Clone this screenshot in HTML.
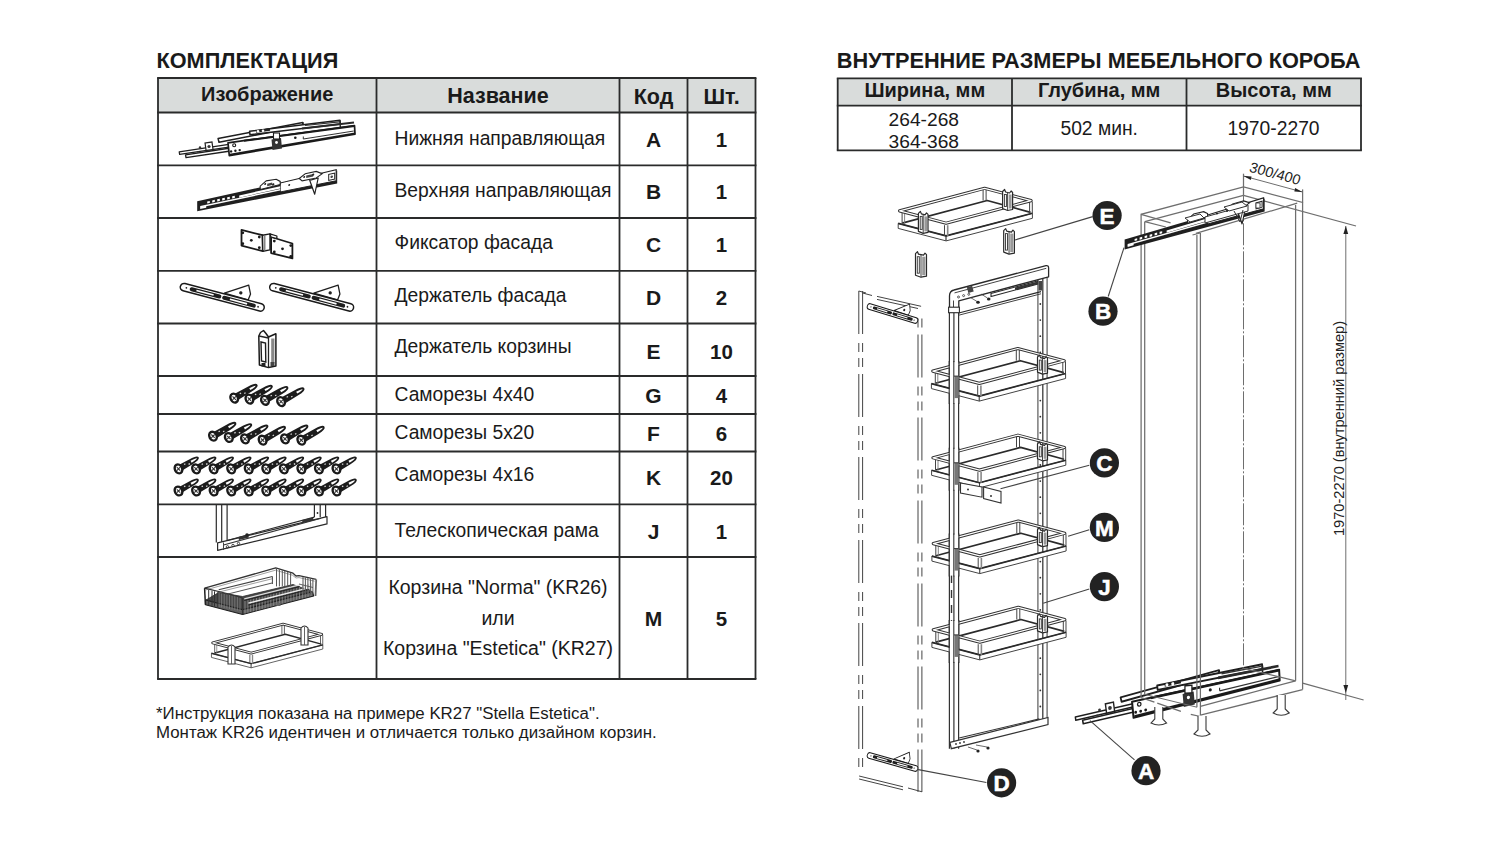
<!DOCTYPE html>
<html><head><meta charset="utf-8"><style>
html,body{margin:0;padding:0;background:#fff;width:1500px;height:844px;overflow:hidden}
svg{display:block}
text{font-family:"Liberation Sans",sans-serif}
</style></head><body>
<svg width="1500" height="844" viewBox="0 0 1500 844">
<rect width="1500" height="844" fill="#fff"/>
<rect x="158" y="78" width="597.5" height="34.5" fill="#d9dcdb"/>
<line x1="157.1" y1="78" x2="756.4" y2="78" stroke="#2a2b2b" stroke-width="1.8"/>
<line x1="157.1" y1="112.5" x2="756.4" y2="112.5" stroke="#2a2b2b" stroke-width="1.8"/>
<line x1="157.1" y1="165.3" x2="756.4" y2="165.3" stroke="#2a2b2b" stroke-width="1.8"/>
<line x1="157.1" y1="218" x2="756.4" y2="218" stroke="#2a2b2b" stroke-width="1.8"/>
<line x1="157.1" y1="270.8" x2="756.4" y2="270.8" stroke="#2a2b2b" stroke-width="1.8"/>
<line x1="157.1" y1="323.5" x2="756.4" y2="323.5" stroke="#2a2b2b" stroke-width="1.8"/>
<line x1="157.1" y1="376" x2="756.4" y2="376" stroke="#2a2b2b" stroke-width="1.8"/>
<line x1="157.1" y1="414" x2="756.4" y2="414" stroke="#2a2b2b" stroke-width="1.8"/>
<line x1="157.1" y1="451.5" x2="756.4" y2="451.5" stroke="#2a2b2b" stroke-width="1.8"/>
<line x1="157.1" y1="504.3" x2="756.4" y2="504.3" stroke="#2a2b2b" stroke-width="1.8"/>
<line x1="157.1" y1="557" x2="756.4" y2="557" stroke="#2a2b2b" stroke-width="1.8"/>
<line x1="157.1" y1="679" x2="756.4" y2="679" stroke="#2a2b2b" stroke-width="1.8"/>
<line x1="158" y1="78" x2="158" y2="679" stroke="#2a2b2b" stroke-width="1.8"/>
<line x1="376.5" y1="78" x2="376.5" y2="679" stroke="#2a2b2b" stroke-width="1.8"/>
<line x1="619.5" y1="78" x2="619.5" y2="679" stroke="#2a2b2b" stroke-width="1.8"/>
<line x1="687.5" y1="78" x2="687.5" y2="679" stroke="#2a2b2b" stroke-width="1.8"/>
<line x1="755.5" y1="78" x2="755.5" y2="679" stroke="#2a2b2b" stroke-width="1.8"/>
<rect x="837.7" y="78.3" width="523.3" height="27.400000000000006" fill="#d9dcdb"/>
<line x1="836.8000000000001" y1="78.3" x2="1361.9" y2="78.3" stroke="#2a2b2b" stroke-width="1.8"/>
<line x1="836.8000000000001" y1="105.7" x2="1361.9" y2="105.7" stroke="#2a2b2b" stroke-width="1.8"/>
<line x1="836.8000000000001" y1="150.3" x2="1361.9" y2="150.3" stroke="#2a2b2b" stroke-width="1.8"/>
<line x1="837.7" y1="78.3" x2="837.7" y2="150.3" stroke="#2a2b2b" stroke-width="1.8"/>
<line x1="1012" y1="78.3" x2="1012" y2="150.3" stroke="#2a2b2b" stroke-width="1.8"/>
<line x1="1186.5" y1="78.3" x2="1186.5" y2="150.3" stroke="#2a2b2b" stroke-width="1.8"/>
<line x1="1361" y1="78.3" x2="1361" y2="150.3" stroke="#2a2b2b" stroke-width="1.8"/>
<g><text x="156.5" y="67.5" font-size="21.7" font-weight="bold" text-anchor="start" fill="#1a1a1a">КОМПЛЕКТАЦИЯ</text>
<text x="836.8" y="67.5" font-size="21.72" font-weight="bold" text-anchor="start" fill="#1a1a1a">ВНУТРЕННИЕ РАЗМЕРЫ МЕБЕЛЬНОГО КОРОБА</text>
<text x="267.2" y="100.6" font-size="20" font-weight="bold" text-anchor="middle" fill="#1a1a1a">Изображение</text>
<text x="498" y="102.8" font-size="21.5" font-weight="bold" text-anchor="middle" fill="#1a1a1a">Название</text>
<text x="653.5" y="103.9" font-size="21.5" font-weight="bold" text-anchor="middle" fill="#1a1a1a">Код</text>
<text x="721.5" y="103.9" font-size="21.5" font-weight="bold" text-anchor="middle" fill="#1a1a1a">Шт.</text>
<text x="394.5" y="144.8" font-size="19.3"  text-anchor="start" fill="#1a1a1a">Нижняя направляющая</text>
<text x="394.5" y="196.8" font-size="19.3"  text-anchor="start" fill="#1a1a1a">Верхняя направляющая</text>
<text x="394.5" y="248.8" font-size="19.3"  text-anchor="start" fill="#1a1a1a">Фиксатор фасада</text>
<text x="394.5" y="302" font-size="19.3"  text-anchor="start" fill="#1a1a1a">Держатель фасада</text>
<text x="394.5" y="353.0" font-size="19.3"  text-anchor="start" fill="#1a1a1a">Держатель корзины</text>
<text x="394.5" y="400.8" font-size="19.3"  text-anchor="start" fill="#1a1a1a">Саморезы 4x40</text>
<text x="394.5" y="438.5" font-size="19.3"  text-anchor="start" fill="#1a1a1a">Саморезы 5x20</text>
<text x="394.5" y="481.3" font-size="19.3"  text-anchor="start" fill="#1a1a1a">Саморезы 4x16</text>
<text x="394.5" y="536.8" font-size="19.3"  text-anchor="start" fill="#1a1a1a">Телескопическая рама</text>
<text x="498" y="594" font-size="19.5"  text-anchor="middle" fill="#1a1a1a">Корзина "Norma" (KR26)</text>
<text x="498" y="625" font-size="19.5"  text-anchor="middle" fill="#1a1a1a">или</text>
<text x="498" y="655" font-size="19.5"  text-anchor="middle" fill="#1a1a1a">Корзина "Estetica" (KR27)</text>
<text x="653.5" y="146.7" font-size="21" font-weight="bold" text-anchor="middle" fill="#1a1a1a">A</text>
<text x="721.5" y="146.7" font-size="20.5" font-weight="bold" text-anchor="middle" fill="#1a1a1a">1</text>
<text x="653.5" y="199.3" font-size="21" font-weight="bold" text-anchor="middle" fill="#1a1a1a">B</text>
<text x="721.5" y="199.3" font-size="20.5" font-weight="bold" text-anchor="middle" fill="#1a1a1a">1</text>
<text x="653.5" y="251.5" font-size="21" font-weight="bold" text-anchor="middle" fill="#1a1a1a">C</text>
<text x="721.5" y="251.5" font-size="20.5" font-weight="bold" text-anchor="middle" fill="#1a1a1a">1</text>
<text x="653.5" y="305.2" font-size="21" font-weight="bold" text-anchor="middle" fill="#1a1a1a">D</text>
<text x="721.5" y="305.2" font-size="20.5" font-weight="bold" text-anchor="middle" fill="#1a1a1a">2</text>
<text x="653.5" y="359" font-size="21" font-weight="bold" text-anchor="middle" fill="#1a1a1a">E</text>
<text x="721.5" y="359" font-size="20.5" font-weight="bold" text-anchor="middle" fill="#1a1a1a">10</text>
<text x="653.5" y="402.8" font-size="21" font-weight="bold" text-anchor="middle" fill="#1a1a1a">G</text>
<text x="721.5" y="402.8" font-size="20.5" font-weight="bold" text-anchor="middle" fill="#1a1a1a">4</text>
<text x="653.5" y="440.7" font-size="21" font-weight="bold" text-anchor="middle" fill="#1a1a1a">F</text>
<text x="721.5" y="440.7" font-size="20.5" font-weight="bold" text-anchor="middle" fill="#1a1a1a">6</text>
<text x="653.5" y="485" font-size="21" font-weight="bold" text-anchor="middle" fill="#1a1a1a">K</text>
<text x="721.5" y="485" font-size="20.5" font-weight="bold" text-anchor="middle" fill="#1a1a1a">20</text>
<text x="653.5" y="538.6" font-size="21" font-weight="bold" text-anchor="middle" fill="#1a1a1a">J</text>
<text x="721.5" y="538.6" font-size="20.5" font-weight="bold" text-anchor="middle" fill="#1a1a1a">1</text>
<text x="653.5" y="625.5" font-size="21" font-weight="bold" text-anchor="middle" fill="#1a1a1a">M</text>
<text x="721.5" y="625.5" font-size="20.5" font-weight="bold" text-anchor="middle" fill="#1a1a1a">5</text>
<text x="924.8" y="96.7" font-size="20" font-weight="bold" text-anchor="middle" fill="#1a1a1a">Ширина, мм</text>
<text x="1099.2" y="96.7" font-size="20" font-weight="bold" text-anchor="middle" fill="#1a1a1a">Глубина, мм</text>
<text x="1273.8" y="96.7" font-size="20" font-weight="bold" text-anchor="middle" fill="#1a1a1a">Высота, мм</text>
<text x="923.8" y="126.0" font-size="19.2"  text-anchor="middle" fill="#1a1a1a">264-268</text>
<text x="923.8" y="148.0" font-size="19.2"  text-anchor="middle" fill="#1a1a1a">364-368</text>
<text x="1099.2" y="135.3" font-size="19.3"  text-anchor="middle" fill="#1a1a1a">502 мин.</text>
<text x="1273.5" y="135.3" font-size="19.3"  text-anchor="middle" fill="#1a1a1a">1970-2270</text>
<text x="156" y="719" font-size="16.85"  text-anchor="start" fill="#1a1a1a">*Инструкция показана на примере KR27 "Stella Estetica".</text>
<text x="156" y="737.5" font-size="16.85"  text-anchor="start" fill="#1a1a1a">Монтаж KR26 идентичен и отличается только дизайном корзин.</text></g>
<use href="#railAsym" transform="matrix(1.1625,-0.0824,0,1.25,867.0,542.05)"/>
<g id="cabinet" fill="none" stroke="#6e6e6e" stroke-width="1.25">
  <polyline points="1141.1,697.6 1141.1,214.3 1243.5,187 1302.6,202.4 1302.6,689.6"/>
  <line x1="1144.8" y1="221.7" x2="1243.5" y2="195.3"/>
  <line x1="1243.5" y1="195.3" x2="1356" y2="226"/>
  <line x1="1297.2" y1="203.2" x2="1195.9" y2="233.3"/>
  <line x1="1141.1" y1="214.3" x2="1170.6" y2="222.9"/>
  <line x1="1144.8" y1="221.7" x2="1165.8" y2="227"/>
  <line x1="1192.5" y1="235" x2="1200.2" y2="233"/>
  <line x1="1144.7" y1="221.7" x2="1144.7" y2="694.4"/>
  <line x1="1196.9" y1="235" x2="1196.9" y2="707.2"/>
  <line x1="1200.4" y1="233" x2="1200.4" y2="715.2"/>
  <line x1="1295.6" y1="205" x2="1295.6" y2="680.8"/>
  <line x1="1243.5" y1="173.7" x2="1243.5" y2="195.3"/>
  <line x1="1243.5" y1="195.3" x2="1243.5" y2="668" stroke-dasharray="22 2 2 2" stroke-width="1"/>
  <line x1="1302.6" y1="189.4" x2="1302.6" y2="202.4"/>
  <line x1="1243.5" y1="176" x2="1302.4" y2="192" stroke-width="1"/>
  <line x1="1345.8" y1="226" x2="1345.8" y2="700" stroke-width="1"/>
  <!-- bottom -->
  <line x1="1200.4" y1="715.2" x2="1302.6" y2="689.6"/>
  <line x1="1200.4" y1="706.4" x2="1295.6" y2="680.8"/>
  <line x1="1242" y1="668" x2="1295.6" y2="680.8"/>
  <line x1="1302.6" y1="683.2" x2="1363.6" y2="700"/>
  <line x1="1141.2" y1="697.6" x2="1182.8" y2="712" stroke-dasharray="14 3 25 3"/>
  <line x1="1190.8" y1="714.4" x2="1200.4" y2="716.5"/>
  <line x1="1144.7" y1="694.4" x2="1196.9" y2="707.2" stroke-width="1"/>
</g>
<g id="feet" fill="#fff" stroke="#3a3a3a" stroke-width="1.1">
  <path d="M1154.8,707 L1154.8,719 L1151,723 Q1158.8,727 1166.6,723 L1162.8,719 L1162.8,707"/>
  <path d="M1198,716 L1198,730 L1194,734 Q1202,738.5 1210,734 L1206,730 L1206,716"/>
  <path d="M1277.2,695 L1277.2,709 L1273.2,713 Q1281.2,717.5 1289.2,713 L1285.2,709 L1285.2,695"/>
</g>

<use href="#railBsym" transform="matrix(1,-0.281,0,1,1124.6,239.4)"/>
  <polygon points="1205,223 1248,211 1248,205 1205,217" fill="#fff" stroke="#333" stroke-width="1"/>
  <polygon points="1185,218 1200,214 1204,218 1190,222" fill="#fff" stroke="#333" stroke-width="1"/>
  <polygon points="1224,207 1242,202 1247,206 1229,211" fill="#fff" stroke="#333" stroke-width="1"/>
  <polyline points="1234,211 1240,222 1243,210" fill="none" stroke="#333" stroke-width="1"/>
  <rect x="1256" y="203" width="4" height="5" fill="#fff" stroke="#333" stroke-width="0.8"/>
  <circle cx="1217" cy="213.5" r="1" fill="#222"/><circle cx="1227" cy="211" r="1" fill="#222"/>
</g>
<g fill="#222">
  <polygon points="1243.5,176 1251.5,176.4 1250.8,180"/>
  <polygon points="1302.4,192 1294.4,191.6 1295.1,188"/>
  <polygon points="1345.8,226 1343.4,234 1348.2,234"/>
  <polygon points="1345.8,693 1343.4,685 1348.2,685"/>
</g>
<text transform="translate(1248.5,171.5) rotate(15) skewX(-3)" font-size="14.4" fill="#222">300/400</text>
<text transform="translate(1343.5,536) rotate(-90)" font-size="14.6" fill="#222">1970-2270 (внутренний размер)</text>
<defs><g id="bask"><polyline points="2.6,12.2 87.6,-10.4 131.0,1.5" fill="none" stroke="#2a2a2a" stroke-width="1.7" stroke-linejoin="round"/>
<line x1="83.5" y1="-21.6" x2="83.5" y2="-10.4" stroke="#444" stroke-width="1.0"/>
<line x1="86.5" y1="-21.6" x2="86.5" y2="-10.4" stroke="#444" stroke-width="1.0"/>
<line x1="130.0" y1="-9.3" x2="130.0" y2="2.4" stroke="#444" stroke-width="1.0"/>
<line x1="132.7" y1="-9.3" x2="132.7" y2="2.4" stroke="#444" stroke-width="1.0"/>
<polygon points="-1.4,12.5 46.5,25.0 46.5,30.0 -1.4,17.5" fill="#fff" stroke="#444" stroke-width="1.0" stroke-linejoin="round"/>
<polygon points="46.5,25.0 132.8,2.4 132.8,7.4 46.5,30.0" fill="#fff" stroke="#444" stroke-width="1.0" stroke-linejoin="round"/>
<polyline points="-1.4,12.5 46.5,25.0 132.8,2.4" fill="none" stroke="#2a2a2a" stroke-width="1.7" stroke-linejoin="round"/>
<line x1="2.5" y1="2.0" x2="2.5" y2="12.5" stroke="#444" stroke-width="1.0"/>
<line x1="5.0" y1="2.5" x2="5.0" y2="13.0" stroke="#777" stroke-width="0.9"/>
<line x1="44.9" y1="14.3" x2="44.9" y2="25.0" stroke="#444" stroke-width="1.0"/>
<line x1="48.1" y1="14.3" x2="48.1" y2="25.0" stroke="#888" stroke-width="1.6"/>
<polygon points="0.0,0.0 46.5,12.3 131.5,-10.3 85.0,-22.6" fill="none" stroke="#333" stroke-width="3.2" stroke-linejoin="round"/>
<polygon points="0.0,0.0 46.5,12.3 131.5,-10.3 85.0,-22.6" fill="none" stroke="#fff" stroke-width="1.2" stroke-linejoin="round"/></g></defs>
<line x1="858.8" y1="291.0" x2="858.8" y2="770.0" stroke="#444" stroke-width="1.0" stroke-dasharray="43 9 9 6 9 7"/>
<line x1="862.6" y1="291.0" x2="862.6" y2="770.0" stroke="#444" stroke-width="1.0" stroke-dasharray="43 9 9 6 9 7"/>
<line x1="918.0" y1="313.0" x2="918.0" y2="792.0" stroke="#444" stroke-width="1.0" stroke-dasharray="43 9 9 6 9 7" stroke-dashoffset="61.5"/>
<line x1="921.9" y1="313.0" x2="921.9" y2="792.0" stroke="#444" stroke-width="1.0" stroke-dasharray="43 9 9 6 9 7" stroke-dashoffset="61.5"/>
<line x1="858.8" y1="291.0" x2="866.0" y2="293.0" stroke="#444" stroke-width="1" />
<line x1="862.6" y1="293.0" x2="872.0" y2="295.5" stroke="#444" stroke-width="1" />
<line x1="877.0" y1="296.4" x2="921.1" y2="306.3" stroke="#444" stroke-width="1" />
<line x1="877.0" y1="299.4" x2="918.0" y2="308.5" stroke="#444" stroke-width="1" />
<line x1="859.1" y1="776.0" x2="903.0" y2="786.8" stroke="#444" stroke-width="1" />
<line x1="859.1" y1="779.0" x2="903.0" y2="789.8" stroke="#444" stroke-width="1" />
<line x1="908.0" y1="788.0" x2="922.0" y2="791.8" stroke="#444" stroke-width="1" />
<use href="#holdD" transform="translate(869.5,306.5) rotate(16.93) scale(0.601,0.75)"/>
<use href="#holdD" transform="translate(869.5,755.5) rotate(15.78) scale(0.598,0.75)"/>
<line x1="949.4" y1="312.7" x2="949.4" y2="748.7" stroke="#333" stroke-width="1.2" />
<line x1="953.9" y1="312.7" x2="953.9" y2="748.7" stroke="#333" stroke-width="1.2" />
<line x1="958.6" y1="312.7" x2="958.6" y2="748.7" stroke="#333" stroke-width="1.2" />
<line x1="1037.9" y1="272.0" x2="1037.9" y2="724.6" stroke="#666" stroke-width="1.3" />
<line x1="1042.8" y1="272.0" x2="1042.8" y2="724.6" stroke="#3a3a3a" stroke-width="1.3" />
<line x1="1047.1" y1="272.0" x2="1047.1" y2="724.6" stroke="#666" stroke-width="1.3" />
<circle cx="1040.3" cy="304.0" r="0.9" fill="#333"/>
<circle cx="1040.3" cy="320.1" r="0.9" fill="#333"/>
<circle cx="1040.3" cy="336.2" r="0.9" fill="#333"/>
<circle cx="1040.3" cy="352.3" r="0.9" fill="#333"/>
<circle cx="1040.3" cy="368.4" r="0.9" fill="#333"/>
<circle cx="1040.3" cy="384.5" r="0.9" fill="#333"/>
<circle cx="1040.3" cy="400.6" r="0.9" fill="#333"/>
<circle cx="1040.3" cy="416.7" r="0.9" fill="#333"/>
<circle cx="1040.3" cy="432.8" r="0.9" fill="#333"/>
<circle cx="1040.3" cy="448.9" r="0.9" fill="#333"/>
<circle cx="1040.3" cy="465.0" r="0.9" fill="#333"/>
<circle cx="1040.3" cy="481.1" r="0.9" fill="#333"/>
<circle cx="1040.3" cy="497.2" r="0.9" fill="#333"/>
<circle cx="1040.3" cy="513.3" r="0.9" fill="#333"/>
<circle cx="1040.3" cy="529.4" r="0.9" fill="#333"/>
<circle cx="1040.3" cy="545.5" r="0.9" fill="#333"/>
<circle cx="1040.3" cy="561.6" r="0.9" fill="#333"/>
<circle cx="1040.3" cy="577.7" r="0.9" fill="#333"/>
<circle cx="1040.3" cy="593.8" r="0.9" fill="#333"/>
<circle cx="1040.3" cy="609.9" r="0.9" fill="#333"/>
<circle cx="1040.3" cy="626.0" r="0.9" fill="#333"/>
<circle cx="1040.3" cy="642.1" r="0.9" fill="#333"/>
<circle cx="1040.3" cy="658.2" r="0.9" fill="#333"/>
<circle cx="1040.3" cy="674.3" r="0.9" fill="#333"/>
<circle cx="1040.3" cy="690.4" r="0.9" fill="#333"/>
<circle cx="1040.3" cy="706.5" r="0.9" fill="#333"/>
<path d="M949.5,307 L949.5,296 Q949.5,291 954,290 L1046,265.6 Q1048.6,265.2 1048.6,268 L1048.6,276.8 L958.8,300.8 L958.8,307" fill="#fff" stroke="#2a2a2a" stroke-width="1.3" stroke-linejoin="round"/>
<line x1="954.5" y1="292.9" x2="1046.3" y2="268.3" stroke="#444" stroke-width="1.0" />
<line x1="953.5" y1="300.5" x2="953.5" y2="307.0" stroke="#444" stroke-width="1.0" />
<polyline points="958.8,313.0 1041.0,291.6" fill="none" stroke="#2a2a2a" stroke-width="1.2" />
<polyline points="958.8,315.2 1041.0,293.8" fill="none" stroke="#444" stroke-width="1.0" />
<path d="M991,293.5 L1037.7,281 L1037.7,284 L991,296.5 Z" fill="#fff" stroke="#2a2a2a" stroke-width="1.1"/>
<path d="M1015,287.6 L1037.7,281.5 L1037.7,284 L1015,290 Z" fill="#333"/>
<rect x="1038.5" y="281" width="3.5" height="9.5" fill="#444"/>
<circle cx="958.5" cy="297" r="1.0" fill="none" stroke="#333" stroke-width="0.8"/>
<circle cx="963.6" cy="295.6" r="1.0" fill="none" stroke="#333" stroke-width="0.8"/>
<circle cx="968.8" cy="294.3" r="1.0" fill="none" stroke="#333" stroke-width="0.8"/>
<rect x="967.5" y="286.5" width="5.5" height="6" fill="#444" transform="rotate(-15 970 289.5)"/>
<ellipse cx="978" cy="302.3" rx="1.8" ry="1.5" fill="#222"/>
<ellipse cx="988.7" cy="299" rx="1.8" ry="1.5" fill="#222"/>
<line x1="970.5" y1="297.5" x2="977.0" y2="301.5" stroke="#444" stroke-width="0.8" />
<line x1="981.0" y1="294.0" x2="987.5" y2="298.0" stroke="#444" stroke-width="0.8" />
<rect x="948.6" y="307.2" width="10.8" height="5.5" fill="#fff" stroke="#2a2a2a" stroke-width="1.1"/>
<polygon points="949.9,742.3 1048.0,717.5 1048.0,724.6 951.3,748.7" fill="#fff" stroke="#333" stroke-width="1.2" />
<line x1="959.1" y1="738.0" x2="1039.4" y2="718.9" stroke="#333" stroke-width="1.1" />
<circle cx="956" cy="744" r="0.9" fill="#333"/>
<circle cx="960" cy="743" r="0.9" fill="#333"/>
<circle cx="964" cy="742" r="0.9" fill="#333"/>
<circle cx="978" cy="751" r="1.6" fill="#222"/><circle cx="988" cy="748" r="1.6" fill="#222"/>
<line x1="968.0" y1="747.0" x2="977.0" y2="750.0" stroke="#444" stroke-width="0.8" />
<line x1="976.0" y1="745.0" x2="987.0" y2="747.0" stroke="#444" stroke-width="0.8" />
<line x1="951.5" y1="575.0" x2="951.5" y2="583.0" stroke="#333" stroke-width="1.4" />
<line x1="951.5" y1="590.0" x2="951.5" y2="598.0" stroke="#333" stroke-width="1.4" />
<line x1="951.5" y1="605.0" x2="951.5" y2="613.0" stroke="#333" stroke-width="1.4" />
<line x1="951.5" y1="620.0" x2="951.5" y2="628.0" stroke="#333" stroke-width="1.4" />
<use href="#bask" x="899.6" y="210.9"/>
<use href="#bask" x="932.8" y="371.1"/>
<use href="#bask" x="933" y="457.8"/>
<use href="#bask" x="933.3" y="543.6"/>
<use href="#bask" x="933.3" y="629.9"/>
<rect x="949.8" y="362.1" width="8.6" height="41.0" fill="#fff"/>
<line x1="949.2" y1="361.1" x2="949.2" y2="404.1" stroke="#333" stroke-width="1.1" />
<line x1="953.8" y1="361.1" x2="953.8" y2="404.1" stroke="#333" stroke-width="1.1" />
<line x1="958.9" y1="361.1" x2="958.9" y2="404.1" stroke="#333" stroke-width="1.1" />
<rect x="954.5" y="376.1" width="4" height="22" fill="#777"/>
<line x1="954.0" y1="376.1" x2="958.5" y2="376.1" stroke="#333" stroke-width="1.0" />
<rect x="949.8" y="448.8" width="8.6" height="41.0" fill="#fff"/>
<line x1="949.2" y1="447.8" x2="949.2" y2="490.8" stroke="#333" stroke-width="1.1" />
<line x1="953.8" y1="447.8" x2="953.8" y2="490.8" stroke="#333" stroke-width="1.1" />
<line x1="958.9" y1="447.8" x2="958.9" y2="490.8" stroke="#333" stroke-width="1.1" />
<rect x="954.5" y="462.8" width="4" height="22" fill="#777"/>
<line x1="954.0" y1="462.8" x2="958.5" y2="462.8" stroke="#333" stroke-width="1.0" />
<rect x="949.8" y="534.6" width="8.6" height="41.0" fill="#fff"/>
<line x1="949.2" y1="533.6" x2="949.2" y2="576.6" stroke="#333" stroke-width="1.1" />
<line x1="953.8" y1="533.6" x2="953.8" y2="576.6" stroke="#333" stroke-width="1.1" />
<line x1="958.9" y1="533.6" x2="958.9" y2="576.6" stroke="#333" stroke-width="1.1" />
<rect x="954.5" y="548.6" width="4" height="22" fill="#777"/>
<line x1="954.0" y1="548.6" x2="958.5" y2="548.6" stroke="#333" stroke-width="1.0" />
<rect x="949.8" y="620.9" width="8.6" height="41.0" fill="#fff"/>
<line x1="949.2" y1="619.9" x2="949.2" y2="662.9" stroke="#333" stroke-width="1.1" />
<line x1="953.8" y1="619.9" x2="953.8" y2="662.9" stroke="#333" stroke-width="1.1" />
<line x1="958.9" y1="619.9" x2="958.9" y2="662.9" stroke="#333" stroke-width="1.1" />
<rect x="954.5" y="634.9" width="4" height="22" fill="#777"/>
<line x1="954.0" y1="634.9" x2="958.5" y2="634.9" stroke="#333" stroke-width="1.0" />
<path d="M1003.7,230.6 L1005.7,228.6 L1006.7,231.1 L1011.4000000000001,232.1 L1012.9000000000001,230.1 L1014.4000000000001,231.6 L1014.4000000000001,253.1 L1009.0500000000001,254.1 L1003.7,252.1 Z" fill="#fff" stroke="#2a2a2a" stroke-width="1.2" stroke-linejoin="round"/>
<line x1="1009.0500000000001" y1="231.6" x2="1009.0500000000001" y2="254.1" stroke="#444" stroke-width="1"/>
<rect x="1005.5" y="233.6" width="2" height="16.5" fill="#fff" stroke="#333" stroke-width="0.9"/>
<rect x="1010.2500000000001" y="233.6" width="3.1499999999999995" height="18.5" fill="#999"/>
<path d="M915.5,253.7 L917.5,251.7 L918.5,254.2 L923.5,255.2 L925.0,253.2 L926.5,254.7 L926.5,276.2 L921.0,277.2 L915.5,275.2 Z" fill="#fff" stroke="#2a2a2a" stroke-width="1.2" stroke-linejoin="round"/>
<line x1="921.0" y1="254.7" x2="921.0" y2="277.2" stroke="#444" stroke-width="1"/>
<rect x="917.3" y="256.7" width="2" height="16.5" fill="#fff" stroke="#333" stroke-width="0.9"/>
<rect x="922.2" y="256.7" width="3.3" height="18.5" fill="#999"/>
<path d="M1002.6,191.5 L1004.6,189.5 L1005.6,192.0 L1009.6,193.0 L1011.1,191.0 L1012.6,192.5 L1012.6,209.5 L1007.6,210.5 L1002.6,208.5 Z" fill="#fff" stroke="#2a2a2a" stroke-width="1.2" stroke-linejoin="round"/>
<line x1="1007.6" y1="192.5" x2="1007.6" y2="210.5" stroke="#444" stroke-width="1"/>
<rect x="1004.4" y="194.5" width="2" height="12" fill="#fff" stroke="#333" stroke-width="0.9"/>
<rect x="1008.8000000000001" y="194.5" width="2.8" height="14" fill="#999"/>
<path d="M918.4,213.4 L920.4,211.4 L921.4,213.9 L925.0,214.9 L926.5,212.9 L928.0,214.4 L928.0,232.4 L923.1999999999999,233.4 L918.4,231.4 Z" fill="#fff" stroke="#2a2a2a" stroke-width="1.2" stroke-linejoin="round"/>
<line x1="923.1999999999999" y1="214.4" x2="923.1999999999999" y2="233.4" stroke="#444" stroke-width="1"/>
<rect x="920.1999999999999" y="216.4" width="2" height="13" fill="#fff" stroke="#333" stroke-width="0.9"/>
<rect x="924.4" y="216.4" width="2.5999999999999996" height="15" fill="#999"/>
<path d="M1037.5,357.1 L1039.5,355.1 L1040.5,357.6 L1044.5,358.6 L1046.0,356.6 L1047.5,358.1 L1047.5,373.1 L1042.5,374.1 L1037.5,372.1 Z" fill="#fff" stroke="#2a2a2a" stroke-width="1.2" stroke-linejoin="round"/>
<line x1="1042.5" y1="358.1" x2="1042.5" y2="374.1" stroke="#444" stroke-width="1"/>
<rect x="1039.3" y="360.1" width="2" height="10" fill="#fff" stroke="#333" stroke-width="0.9"/>
<rect x="1043.7" y="360.1" width="2.8" height="12" fill="#999"/>
<path d="M1037.5,443.8 L1039.5,441.8 L1040.5,444.3 L1044.5,445.3 L1046.0,443.3 L1047.5,444.8 L1047.5,459.8 L1042.5,460.8 L1037.5,458.8 Z" fill="#fff" stroke="#2a2a2a" stroke-width="1.2" stroke-linejoin="round"/>
<line x1="1042.5" y1="444.8" x2="1042.5" y2="460.8" stroke="#444" stroke-width="1"/>
<rect x="1039.3" y="446.8" width="2" height="10" fill="#fff" stroke="#333" stroke-width="0.9"/>
<rect x="1043.7" y="446.8" width="2.8" height="12" fill="#999"/>
<path d="M1037.5,529.6 L1039.5,527.6 L1040.5,530.1 L1044.5,531.1 L1046.0,529.1 L1047.5,530.6 L1047.5,545.6 L1042.5,546.6 L1037.5,544.6 Z" fill="#fff" stroke="#2a2a2a" stroke-width="1.2" stroke-linejoin="round"/>
<line x1="1042.5" y1="530.6" x2="1042.5" y2="546.6" stroke="#444" stroke-width="1"/>
<rect x="1039.3" y="532.6" width="2" height="10" fill="#fff" stroke="#333" stroke-width="0.9"/>
<rect x="1043.7" y="532.6" width="2.8" height="12" fill="#999"/>
<path d="M1037.5,615.9 L1039.5,613.9 L1040.5,616.4 L1044.5,617.4 L1046.0,615.4 L1047.5,616.9 L1047.5,631.9 L1042.5,632.9 L1037.5,630.9 Z" fill="#fff" stroke="#2a2a2a" stroke-width="1.2" stroke-linejoin="round"/>
<line x1="1042.5" y1="616.9" x2="1042.5" y2="632.9" stroke="#444" stroke-width="1"/>
<rect x="1039.3" y="618.9" width="2" height="10" fill="#fff" stroke="#333" stroke-width="0.9"/>
<rect x="1043.7" y="618.9" width="2.8" height="12" fill="#999"/>
<polygon points="960.5,483.0 982.0,487.0 982.0,497.2 960.5,493.0" fill="#fff" stroke="#333" stroke-width="1.1" />
<polygon points="983.6,487.0 1001.0,491.5 1001.0,503.0 983.6,498.5" fill="#fff" stroke="#333" stroke-width="1.1" />
<circle cx="968" cy="489.5" r="1" fill="#333"/>
<circle cx="991" cy="496" r="1" fill="#333"/>
<line x1="1015.0" y1="240.0" x2="1092.7" y2="216.6" stroke="#444" stroke-width="1.1" />
<line x1="1108.2" y1="296.5" x2="1124.0" y2="247.7" stroke="#444" stroke-width="1.1" />
<line x1="1000.5" y1="488.8" x2="1089.3" y2="465.2" stroke="#444" stroke-width="1.1" />
<line x1="1068.1" y1="536.3" x2="1089.3" y2="529.7" stroke="#444" stroke-width="1.1" />
<line x1="1043.2" y1="603.3" x2="1089.3" y2="589.0" stroke="#444" stroke-width="1.1" />
<line x1="1090.0" y1="720.7" x2="1134.5" y2="759.8" stroke="#444" stroke-width="1.1" />
<line x1="917.0" y1="769.4" x2="986.4" y2="782.5" stroke="#444" stroke-width="1.1" />
<circle cx="1107.1" cy="215.5" r="14.6" fill="#222"/>
<text x="1107.1" y="223.7" font-size="22.5" font-weight="bold" fill="#fff" stroke="#fff" stroke-width="0.5" text-anchor="middle">E</text>
<circle cx="1103" cy="311.2" r="14.6" fill="#222"/>
<text x="1103" y="319.4" font-size="22.5" font-weight="bold" fill="#fff" stroke="#fff" stroke-width="0.5" text-anchor="middle">B</text>
<circle cx="1104.4" cy="462.9" r="14.6" fill="#222"/>
<text x="1104.4" y="471.09999999999997" font-size="22.5" font-weight="bold" fill="#fff" stroke="#fff" stroke-width="0.5" text-anchor="middle">C</text>
<circle cx="1104.4" cy="527.4" r="14.6" fill="#222"/>
<text x="1104.4" y="535.6" font-size="22.5" font-weight="bold" fill="#fff" stroke="#fff" stroke-width="0.5" text-anchor="middle">M</text>
<circle cx="1104.4" cy="586.6" r="14.6" fill="#222"/>
<text x="1104.4" y="594.8000000000001" font-size="22.5" font-weight="bold" fill="#fff" stroke="#fff" stroke-width="0.5" text-anchor="middle">J</text>
<circle cx="1146" cy="770.7" r="14.6" fill="#222"/>
<text x="1146" y="778.9000000000001" font-size="22.5" font-weight="bold" fill="#fff" stroke="#fff" stroke-width="0.5" text-anchor="middle">A</text>
<circle cx="1001.6" cy="782.8" r="14.6" fill="#222"/>
<text x="1001.6" y="791.0" font-size="22.5" font-weight="bold" fill="#fff" stroke="#fff" stroke-width="0.5" text-anchor="middle">D</text><defs><g id="scrG"><g transform="rotate(-30.0)"><path d="M1,-3.5 L18.0,-3.1 Q26.8,-2.9 26.8,0 Q26.8,2.9 18.0,3.1 L1,3.5 Z" fill="#1c1c1c"/><path d="M18.0,-1.1 Q24.0,-1 24.8,0 Q24.0,1 18.0,1.1 Z" fill="#fff"/><rect x="7.0" y="-1.6" width="1.5" height="1.2" fill="#ddd"/><rect x="11.0" y="0.5" width="1.5" height="1.2" fill="#ddd"/></g><ellipse cx="0" cy="0" rx="3.6" ry="4.6" transform="rotate(-28)" fill="#fff" stroke="#1a1a1a" stroke-width="2.4"/><path d="M-1.7,-1.7 L1.7,1.7 M-1.7,1.7 L1.7,-1.7" stroke="#333" stroke-width="1.1"/></g><g id="scrK"><g transform="rotate(-29.9)"><path d="M1,-3.3 L14.5,-2.9 Q23.3,-2.6999999999999997 23.3,0 Q23.3,2.6999999999999997 14.5,2.9 L1,3.3 Z" fill="#1c1c1c"/><path d="M14.5,-1.1 Q20.5,-1 21.3,0 Q20.5,1 14.5,1.1 Z" fill="#fff"/><rect x="7.0" y="-1.6" width="1.5" height="1.2" fill="#ddd"/><rect x="11.0" y="0.5" width="1.5" height="1.2" fill="#ddd"/></g><ellipse cx="0" cy="0" rx="3.6" ry="4.6" transform="rotate(-28)" fill="#fff" stroke="#1a1a1a" stroke-width="2.4"/><path d="M-1.7,-1.7 L1.7,1.7 M-1.7,1.7 L1.7,-1.7" stroke="#333" stroke-width="1.1"/></g><g id="holdD"><polygon points="41,-4.5 62.7,-18.6 66.8,-10.4 66,-4" fill="#fff" stroke="#1e1e1e" stroke-width="1.3" stroke-linejoin="round"/><circle cx="57" cy="-9" r="1.7" fill="#222"/><line x1="0" y1="0" x2="80" y2="0" stroke="#1a1a1a" stroke-width="9" stroke-linecap="round"/><line x1="0" y1="0" x2="80" y2="0" stroke="#fff" stroke-width="6" stroke-linecap="round"/><line x1="8" y1="0" x2="37" y2="0" stroke="#1e1e1e" stroke-width="4" stroke-linecap="round"/><line x1="13" y1="0" x2="31" y2="0" stroke="#fff" stroke-width="1.6"/><line x1="42" y1="0" x2="73" y2="0" stroke="#1e1e1e" stroke-width="4" stroke-linecap="round"/><line x1="48" y1="0" x2="66" y2="0" stroke="#fff" stroke-width="1.6"/><circle cx="2.5" cy="0" r="0.9" fill="#222"/><circle cx="77.5" cy="0" r="0.9" fill="#222"/></g><g id="railBsym"><polygon points="0,0 140,-1.5 140,11.5 0,10" fill="#1f1f1f"/><polygon points="83,-1 139,-2.5 139,8.5 83,8" fill="#fff" stroke="#222" stroke-width="1.1"/><line x1="3" y1="6.2" x2="83" y2="5.8" stroke="#fff" stroke-width="1.5"/><polygon points="42,3 83,2.2 83,4.6 42,5.2" fill="#fff"/><rect x="10" y="2.3" width="2.6" height="2.2" fill="#fff"/><rect x="15" y="2.3" width="2.6" height="2.2" fill="#fff"/><rect x="20" y="2.3" width="2.6" height="2.2" fill="#fff"/><rect x="25" y="2.3" width="2.6" height="2.2" fill="#fff"/><rect x="30" y="2.3" width="2.6" height="2.2" fill="#fff"/><rect x="35" y="2.3" width="2.6" height="2.2" fill="#fff"/><rect x="3" y="6.5" width="6" height="2" fill="#fff"/><polygon points="63,-2 69,-6 79,-5.5 83,-2.5 83,0.5 63,1.5" fill="#fff" stroke="#222" stroke-width="1.1"/><rect x="70" y="-3" width="5" height="2.5" fill="#444"/><circle cx="68" cy="-3" r="1" fill="#222"/><circle cx="76" cy="-1" r="1.2" fill="#222"/><polygon points="102,-1.5 108,-5 119,-5 125,-1.5 119,1.5 105,1.5" fill="#fff" stroke="#222" stroke-width="1.1"/><rect x="109" y="-3" width="7" height="2.5" fill="#444"/><circle cx="107" cy="-2" r="1" fill="#222"/><circle cx="116" cy="-2.5" r="1.1" fill="#222"/><polygon points="112.5,2.5 121,2 117.5,17.5" fill="#fff" stroke="#222" stroke-width="1.2" stroke-linejoin="round"/><rect x="131.5" y="0.5" width="6" height="6" fill="#fff" stroke="#222" stroke-width="1"/><circle cx="134.5" cy="3.5" r="1.3" fill="#444"/><circle cx="92" cy="3" r="1" fill="#222"/></g></defs>
<defs><g id="railAsym"><polygon points="218.1,138.6 302.8,122.4 303.2,125.8 219.0,142.2" fill="#fff" stroke="#1e1e1e" stroke-width="1.5" stroke-linejoin="round" /><line x1="302.8" y1="122.4" x2="303.0" y2="127.5" stroke="#222" stroke-width="1.3" /><polygon points="249.6,131.2 339.9,120.2 340.3,124.0 250.0,134.8" fill="#fff" stroke="#1e1e1e" stroke-width="1.5" stroke-linejoin="round" /><line x1="339.9" y1="120.2" x2="340.3" y2="127.0" stroke="#222" stroke-width="1.4" /><line x1="305.0" y1="125.5" x2="339.0" y2="121.8" stroke="#333" stroke-width="1.2" /><polygon points="179.2,151.8 230.5,144.2 230.5,146.8 179.6,154.4" fill="#fff" stroke="#1e1e1e" stroke-width="1.2" stroke-linejoin="round" /><polygon points="185.5,154.8 230.5,148.0 230.5,151.0 186.0,157.6" fill="#fff" stroke="#1e1e1e" stroke-width="1.3" stroke-linejoin="round" /><rect x="205.5" y="142.5" width="7" height="7.5" fill="#fff" stroke="#222" stroke-width="1.2" transform="rotate(-8 209 146)"/><circle cx="209" cy="146.5" r="1.6" fill="#333"/><circle cx="200" cy="147.5" r="1.2" fill="#333"/><circle cx="198" cy="152" r="0.9" fill="#333"/><polygon points="228.0,142.8 354.5,125.5 355.0,134.1 229.3,155.7" fill="#fff" stroke="#1a1a1a" stroke-width="1.7" stroke-linejoin="round" /><line x1="244.0" y1="140.8" x2="354.5" y2="125.9" stroke="#1a1a1a" stroke-width="2.0" /><line x1="230.0" y1="154.5" x2="355.0" y2="133.2" stroke="#1a1a1a" stroke-width="1.6" /><line x1="303.3" y1="139.0" x2="353.8" y2="131.0" stroke="#333" stroke-width="1.0" /><line x1="303.3" y1="136.5" x2="303.3" y2="139.0" stroke="#333" stroke-width="1.0" /><line x1="302.0" y1="128.5" x2="354.0" y2="122.5" stroke="#2a2a2a" stroke-width="2.2" /><circle cx="231.1" cy="151.4" r="1.2" fill="#1a1a1a"/><circle cx="235.4" cy="150.8" r="1.2" fill="#1a1a1a"/><circle cx="239.7" cy="150.1" r="1.2" fill="#1a1a1a"/><circle cx="234.2" cy="145.2" r="1.5" fill="none" stroke="#1a1a1a" stroke-width="1.1"/><polygon points="271.5,139.5 281,138 282,148.5 272.5,150" fill="#333"/><rect x="273.5" y="133" width="6" height="6" fill="#fff" stroke="#1e1e1e" stroke-width="1.1"/><circle cx="276.5" cy="142.5" r="1.4" fill="#fff"/><circle cx="295.3" cy="137.8" r="1.3" fill="#1a1a1a"/><line x1="256.0" y1="131.5" x2="270.0" y2="129.5" stroke="#222" stroke-width="2.4" /><circle cx="258" cy="131.3" r="1.3" fill="#fff"/><circle cx="263" cy="130.7" r="1.3" fill="#fff"/></g></defs>
<use href="#railAsym"/>
<use href="#railBsym" transform="matrix(1,-0.208,0,1,197.2,201.2)"/>
<polygon points="241.5,229.9 262.5,235.2 262.8,251.2 241.5,245.6" fill="#fff" stroke="#1a1a1a" stroke-width="1.8" stroke-linejoin="round" />
<polygon points="262.5,235.2 270.0,233.9 270.0,249.9 262.8,251.2" fill="#fff" stroke="#1a1a1a" stroke-width="1.4" stroke-linejoin="round" />
<line x1="264.8" y1="235.5" x2="264.8" y2="251.0" stroke="#666" stroke-width="1.2" />
<polygon points="271.1,237.0 292.4,243.5 292.4,258.4 271.1,253.1" fill="#fff" stroke="#1a1a1a" stroke-width="1.8" stroke-linejoin="round" />
<polygon points="270.0,233.9 276.9,236.0 276.9,238.5 271.1,237.0" fill="#fff" stroke="#1a1a1a" stroke-width="1.2" stroke-linejoin="round" />
<circle cx="242.8" cy="232.8" r="1.4" fill="#1a1a1a"/>
<circle cx="242.8" cy="243.7" r="1.4" fill="#1a1a1a"/>
<circle cx="259.3" cy="237" r="1.4" fill="#1a1a1a"/>
<circle cx="259.3" cy="247.7" r="1.4" fill="#1a1a1a"/>
<circle cx="251.3" cy="240.3" r="1.4" fill="#1a1a1a"/>
<circle cx="274.3" cy="241.1" r="1.4" fill="#1a1a1a"/>
<circle cx="274.3" cy="252" r="1.4" fill="#1a1a1a"/>
<circle cx="290.8" cy="245.6" r="1.4" fill="#1a1a1a"/>
<circle cx="290.8" cy="256.3" r="1.4" fill="#1a1a1a"/>
<circle cx="282.5" cy="248.8" r="1.4" fill="#1a1a1a"/>
<use href="#holdD" transform="translate(184,287.2) rotate(14.79) scale(0.989,1)"/>
<use href="#holdD" transform="translate(273.4,287.2) rotate(14.79) scale(0.989,1)"/>
<path d="M258.8,336 L260.5,332.5 L263.5,330.5 L266,333.5 L268.5,337 L273,335 L275.9,333.8 L275.9,366 L268.5,367.6 L259.4,365 Z" fill="#fff" stroke="#1a1a1a" stroke-width="1.5" stroke-linejoin="round"/>
<line x1="268.5" y1="337.0" x2="268.5" y2="367.5" stroke="#222" stroke-width="1.3" />
<line x1="259.0" y1="336.0" x2="268.5" y2="338.0" stroke="#222" stroke-width="1.3" />
<path d="M261,342 L265.5,343 L265.8,362 L261.5,361 Z" fill="#fff" stroke="#1e1e1e" stroke-width="1.4"/>
<rect x="271.2" y="338.5" width="3.2" height="25" fill="#888"/>
<rect x="261.5" y="363" width="4" height="3.5" fill="#222"/>
<rect x="270.5" y="362" width="4" height="4" fill="#444"/>
<use href="#scrG" x="234.2" y="398.1"/>
<use href="#scrG" x="249.4" y="399.1"/>
<use href="#scrG" x="265" y="400.3"/>
<use href="#scrG" x="281.1" y="401.6"/>
<use href="#scrG" x="213" y="436.2"/>
<use href="#scrG" x="228.8" y="437.5"/>
<use href="#scrG" x="245" y="438.9"/>
<use href="#scrG" x="262.6" y="440.2"/>
<use href="#scrG" x="285" y="438.9"/>
<use href="#scrG" x="301.3" y="440.2"/>
<use href="#scrK" x="178.50" y="468.9"/>
<use href="#scrK" x="196.05" y="468.9"/>
<use href="#scrK" x="213.60" y="468.9"/>
<use href="#scrK" x="231.15" y="468.9"/>
<use href="#scrK" x="248.70" y="468.9"/>
<use href="#scrK" x="266.25" y="468.9"/>
<use href="#scrK" x="283.80" y="468.9"/>
<use href="#scrK" x="301.35" y="468.9"/>
<use href="#scrK" x="318.90" y="468.9"/>
<use href="#scrK" x="336.45" y="468.9"/>
<use href="#scrK" x="178.50" y="491.0"/>
<use href="#scrK" x="196.05" y="491.0"/>
<use href="#scrK" x="213.60" y="491.0"/>
<use href="#scrK" x="231.15" y="491.0"/>
<use href="#scrK" x="248.70" y="491.0"/>
<use href="#scrK" x="266.25" y="491.0"/>
<use href="#scrK" x="283.80" y="491.0"/>
<use href="#scrK" x="301.35" y="491.0"/>
<use href="#scrK" x="318.90" y="491.0"/>
<use href="#scrK" x="336.45" y="491.0"/>
<line x1="216.3" y1="505.0" x2="216.3" y2="542.5" stroke="#2a2a2a" stroke-width="1.2" />
<line x1="221.7" y1="505.0" x2="221.7" y2="542.5" stroke="#2a2a2a" stroke-width="1.2" />
<line x1="227.1" y1="505.0" x2="227.1" y2="542.5" stroke="#2a2a2a" stroke-width="1.2" />
<line x1="314.4" y1="505.0" x2="314.4" y2="517.0" stroke="#2a2a2a" stroke-width="1.2" />
<line x1="320.2" y1="505.0" x2="320.2" y2="517.0" stroke="#2a2a2a" stroke-width="1.2" />
<line x1="325.6" y1="505.0" x2="325.6" y2="517.0" stroke="#2a2a2a" stroke-width="1.2" />
<circle cx="317.5" cy="513" r="0.9" fill="#222"/>
<polygon points="217.6,542.8 327.0,516.7 327.0,523.9 217.6,550.4" fill="#fff" stroke="#2a2a2a" stroke-width="1.2" stroke-linejoin="round" />
<line x1="223.5" y1="545.0" x2="321.0" y2="518.2" stroke="#333" stroke-width="1.1" />
<line x1="227.0" y1="540.5" x2="314.4" y2="517.1" stroke="#2a2a2a" stroke-width="1.1" />
<line x1="223.5" y1="542.5" x2="223.5" y2="550.0" stroke="#444" stroke-width="1.0" />
<circle cx="227.5" cy="546.8" r="1.2" fill="none" stroke="#333" stroke-width="0.9"/>
<circle cx="233" cy="545.5" r="1.2" fill="none" stroke="#333" stroke-width="0.9"/>
<circle cx="238.5" cy="543.5" r="1.2" fill="none" stroke="#333" stroke-width="0.9"/>
<polygon points="238,537 248,534.5 249,537.5 239,540" fill="#333"/>
<circle cx="247" cy="535" r="1.8" fill="#222"/>
<polygon points="302,520 313,517.5 313.5,520 302.5,522.5" fill="#333"/>
<polygon points="206.0,600.0 242.6,609.5 312.0,591.5 293.0,584.5 242.6,596.5 218.7,592.5" fill="#484848" stroke="#2a2a2a" stroke-width="0.8" stroke-linejoin="round" />
<polygon points="205.5,600.0 242.6,609.8 242.6,614.5 205.5,604.8" fill="#606060" stroke="#1e1e1e" stroke-width="1.1" stroke-linejoin="round" />
<polygon points="242.6,609.8 312.5,591.8 313.7,596.0 242.6,614.5" fill="#606060" stroke="#1e1e1e" stroke-width="1.1" stroke-linejoin="round" />
<line x1="245.0" y1="600.5" x2="245.0" y2="613.5" stroke="#999" stroke-width="0.7" />
<line x1="247.9" y1="599.7" x2="247.9" y2="612.7" stroke="#999" stroke-width="0.7" />
<line x1="250.7" y1="599.0" x2="250.7" y2="612.0" stroke="#999" stroke-width="0.7" />
<line x1="253.6" y1="598.2" x2="253.6" y2="611.2" stroke="#999" stroke-width="0.7" />
<line x1="256.5" y1="597.5" x2="256.5" y2="610.5" stroke="#999" stroke-width="0.7" />
<line x1="259.3" y1="596.7" x2="259.3" y2="609.7" stroke="#999" stroke-width="0.7" />
<line x1="262.2" y1="595.9" x2="262.2" y2="608.9" stroke="#999" stroke-width="0.7" />
<line x1="265.1" y1="595.2" x2="265.1" y2="608.2" stroke="#999" stroke-width="0.7" />
<line x1="268.0" y1="594.4" x2="268.0" y2="607.4" stroke="#999" stroke-width="0.7" />
<line x1="270.8" y1="593.7" x2="270.8" y2="606.7" stroke="#999" stroke-width="0.7" />
<line x1="273.7" y1="592.9" x2="273.7" y2="605.9" stroke="#999" stroke-width="0.7" />
<line x1="276.6" y1="592.1" x2="276.6" y2="605.1" stroke="#999" stroke-width="0.7" />
<line x1="279.4" y1="591.4" x2="279.4" y2="604.4" stroke="#999" stroke-width="0.7" />
<line x1="282.3" y1="590.6" x2="282.3" y2="603.6" stroke="#999" stroke-width="0.7" />
<line x1="285.2" y1="589.8" x2="285.2" y2="602.8" stroke="#999" stroke-width="0.7" />
<line x1="288.0" y1="589.1" x2="288.0" y2="602.1" stroke="#999" stroke-width="0.7" />
<line x1="290.9" y1="588.3" x2="290.9" y2="601.3" stroke="#999" stroke-width="0.7" />
<line x1="293.8" y1="587.6" x2="293.8" y2="600.6" stroke="#999" stroke-width="0.7" />
<line x1="296.7" y1="586.8" x2="296.7" y2="599.8" stroke="#999" stroke-width="0.7" />
<line x1="299.5" y1="586.0" x2="299.5" y2="599.0" stroke="#999" stroke-width="0.7" />
<line x1="302.4" y1="585.3" x2="302.4" y2="598.3" stroke="#999" stroke-width="0.7" />
<line x1="305.3" y1="584.5" x2="305.3" y2="597.5" stroke="#999" stroke-width="0.7" />
<line x1="308.1" y1="583.8" x2="308.1" y2="596.8" stroke="#999" stroke-width="0.7" />
<line x1="311.0" y1="583.0" x2="311.0" y2="596.0" stroke="#999" stroke-width="0.7" />
<line x1="219.0" y1="593.0" x2="219.0" y2="607.0" stroke="#888" stroke-width="0.7" />
<line x1="221.6" y1="593.5" x2="221.6" y2="607.5" stroke="#888" stroke-width="0.7" />
<line x1="224.2" y1="594.0" x2="224.2" y2="608.0" stroke="#888" stroke-width="0.7" />
<line x1="226.9" y1="594.5" x2="226.9" y2="608.5" stroke="#888" stroke-width="0.7" />
<line x1="229.5" y1="595.0" x2="229.5" y2="609.0" stroke="#888" stroke-width="0.7" />
<line x1="232.1" y1="595.5" x2="232.1" y2="609.5" stroke="#888" stroke-width="0.7" />
<line x1="234.8" y1="596.0" x2="234.8" y2="610.0" stroke="#888" stroke-width="0.7" />
<line x1="237.4" y1="596.5" x2="237.4" y2="610.5" stroke="#888" stroke-width="0.7" />
<line x1="240.0" y1="597.0" x2="240.0" y2="611.0" stroke="#888" stroke-width="0.7" />
<line x1="244.3" y1="598.8" x2="299.7" y2="584.9" stroke="#ddd" stroke-width="1.3" />
<line x1="248.4" y1="603.2" x2="309.6" y2="587.6" stroke="#eee" stroke-width="1.3" />
<line x1="244.3" y1="600.5" x2="299.7" y2="586.6" stroke="#222" stroke-width="1.0" />
<line x1="248.4" y1="605.0" x2="309.6" y2="589.3" stroke="#222" stroke-width="1.0" />
<polyline points="204.6,588.1 275.7,567.9 293,573.2 296,576 299,575.6 316.2,579.4" fill="none" stroke="#333" stroke-width="1.3" stroke-linejoin="round"/>
<polyline points="205.5,590 275.5,570.2 292.5,575.2 296,578 299,577.6 314.5,581.2" fill="none" stroke="#888" stroke-width="0.8"/>
<line x1="218.7" y1="589.8" x2="272.4" y2="576.5" stroke="#444" stroke-width="1.1" />
<line x1="219.0" y1="592.0" x2="272.4" y2="578.7" stroke="#888" stroke-width="0.8" />
<line x1="228.0" y1="594.0" x2="272.0" y2="583.0" stroke="#555" stroke-width="1.0" />
<polyline points="204.6,588.1 229,594 242.5,598" fill="none" stroke="#333" stroke-width="1.1"/>
<line x1="204.6" y1="588.1" x2="205.4" y2="604.6" stroke="#222" stroke-width="1.5" />
<line x1="242.6" y1="598.0" x2="242.6" y2="614.5" stroke="#333" stroke-width="1.4" />
<line x1="316.2" y1="579.4" x2="315.5" y2="596.0" stroke="#666" stroke-width="1.8" />
<line x1="208.7" y1="589.9" x2="208.7" y2="605.0" stroke="#333" stroke-width="1.0" />
<line x1="212.0" y1="590.7" x2="212.0" y2="605.8" stroke="#333" stroke-width="1.0" />
<line x1="214.5" y1="591.3" x2="214.5" y2="606.5" stroke="#333" stroke-width="1.0" />
<line x1="217.8" y1="592.1" x2="217.8" y2="607.3" stroke="#333" stroke-width="1.0" />
<line x1="276.5" y1="568.5" x2="276.5" y2="586.4" stroke="#555" stroke-width="1.0" />
<line x1="279.4" y1="569.4" x2="279.4" y2="586.4" stroke="#555" stroke-width="1.0" />
<line x1="282.3" y1="570.3" x2="282.3" y2="586.4" stroke="#555" stroke-width="1.0" />
<line x1="284.8" y1="571.0" x2="284.8" y2="586.4" stroke="#555" stroke-width="1.0" />
<line x1="287.7" y1="571.9" x2="287.7" y2="586.4" stroke="#555" stroke-width="1.0" />
<line x1="290.6" y1="572.8" x2="290.6" y2="586.4" stroke="#555" stroke-width="1.0" />
<line x1="303.0" y1="576.9" x2="303.0" y2="594.5" stroke="#555" stroke-width="1.0" />
<line x1="305.4" y1="577.4" x2="305.4" y2="594.5" stroke="#555" stroke-width="1.0" />
<line x1="307.9" y1="578.0" x2="307.9" y2="594.5" stroke="#555" stroke-width="1.0" />
<line x1="310.4" y1="578.5" x2="310.4" y2="594.5" stroke="#555" stroke-width="1.0" />
<line x1="312.9" y1="579.1" x2="312.9" y2="594.5" stroke="#555" stroke-width="1.0" />
<line x1="299.0" y1="584.0" x2="313.0" y2="587.5" stroke="#555" stroke-width="0.9" />
<line x1="272.4" y1="576.5" x2="272.4" y2="584.0" stroke="#444" stroke-width="1.0" />
<rect x="276.5" y="603" width="4" height="3" fill="#666"/>
<use href="#bask" transform="translate(212.6,642.9) scale(0.83)"/>
<path d="M228,647 Q231.5,643 235,647 L235,664 L228,664 Z" fill="#fff" stroke="#333" stroke-width="1.1"/>
<line x1="231.5" y1="646" x2="231.5" y2="664" stroke="#555" stroke-width="0.9"/>
<path d="M301,628 Q304.5,624 308,628 L308,645 L301,645 Z" fill="#fff" stroke="#333" stroke-width="1.1"/>
<line x1="304.5" y1="627" x2="304.5" y2="645" stroke="#555" stroke-width="0.9"/>
</svg></body></html>
